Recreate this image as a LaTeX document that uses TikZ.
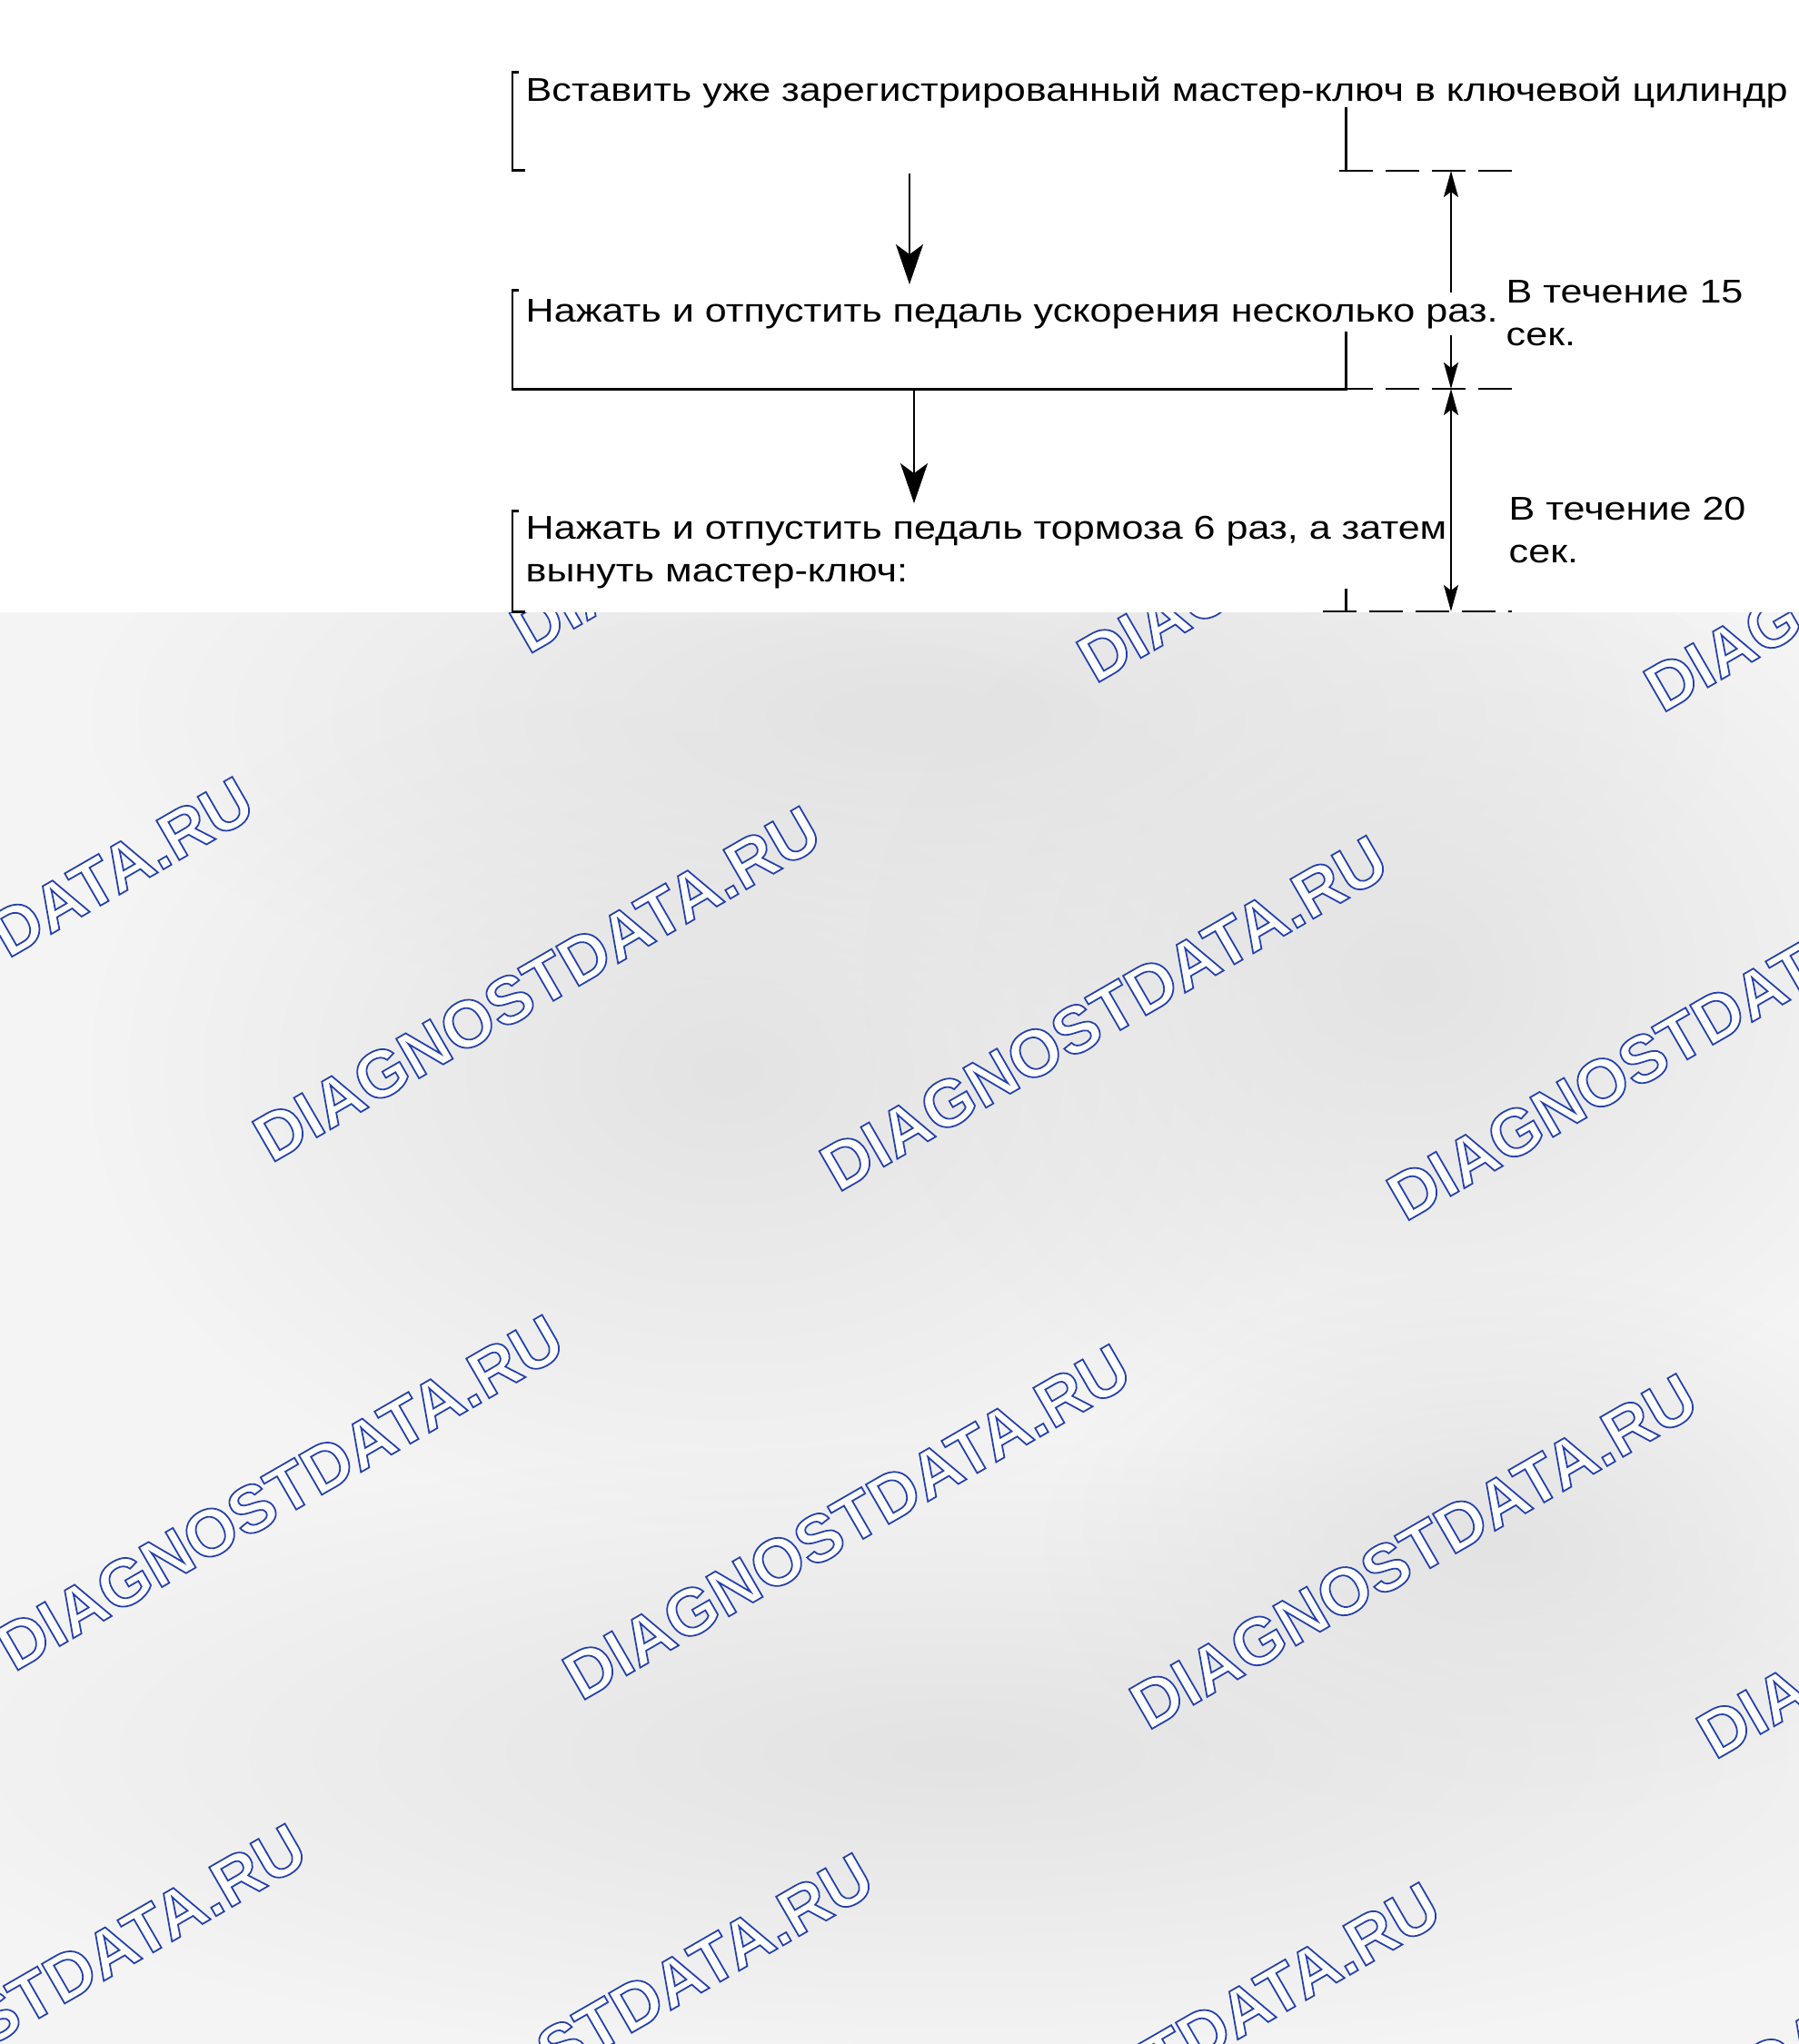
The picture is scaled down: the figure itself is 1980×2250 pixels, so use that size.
\documentclass[tikz,border=0pt]{standalone}
\usepackage{xcolor}
\usepackage{fontspec}
\setmainfont{Liberation Sans}[FakeStretch=1.19]
\newfontfamily\wmfont{Liberation Sans}
\usepackage{tikz}
\usetikzlibrary{positioning,calc,arrows.meta,fadings}

\definecolor{wmblue}{RGB}{40,70,180}
\definecolor{bgbase}{gray}{0.955}
\definecolor{bgblob}{gray}{0.89}
\newcommand{\outlinetext}[1]{\special{pdf:literal direct 0.14 0.25 0.68 RG 2 Tr 0.5 w}#1\special{pdf:literal direct 0 Tr}}
\tikzfading[name=blobfade, inner color=transparent!0, outer color=transparent!100]

\tikzset{
  steptext/.style={anchor=base west, inner sep=2pt, align=left, font=\fontsize{10.3pt}{13.1pt}\selectfont},
  bracketline/.style={line width=0.85pt},
  dashext/.style={line width=0.8pt, dash pattern=on 0.37cm off 0.14cm},
  flowarrow/.style={line width=0.6pt, -{Stealth[length=0.44cm,width=0.3cm,inset=0.11cm]}},
  dimline/.style={line width=0.55pt, {Stealth[length=0.29cm,width=0.16cm,inset=0.06cm]}-{Stealth[length=0.29cm,width=0.16cm,inset=0.06cm]}},
  blob/.style={fill=bgblob, path fading=blobfade},
  watermark/.style={rotate=30, inner sep=0pt, text=white, font=\wmfont\bfseries\fontsize{20.8pt}{23pt}\selectfont}
}

\begin{document}
\begin{tikzpicture}[x=0.01cm,y=-0.01cm]
\useasboundingbox (0,0) rectangle (1980,2250);
\begin{scope}
\clip (0,0) rectangle (1980,2250);
\fill[bgbase] (0,674) rectangle (1980,2250);
\fill[blob] (1000,790) ellipse [x radius=900, y radius=340];
\fill[blob] (800,1180) ellipse [x radius=700, y radius=500];
\fill[blob] (1550,1080) ellipse [x radius=600, y radius=500];
\fill[blob] (1050,1930) ellipse [x radius=1200, y radius=340];
\fill[blob] (1650,1700) ellipse [x radius=500, y radius=300];
% watermark grid
\foreach \r in {0,...,3}
  \foreach \k in {-1,...,3}
    \node[watermark] (wm-\r-\k) at ({874-283*\r+624*\k},{523+560*\r+32.3*\k}) {\outlinetext{DIAGNOSTDATA.RU}};
\fill[white] (0,0) rectangle (1980,674);
\end{scope}

\coordinate (d1) at (1597,188);
\coordinate (d2) at (1597,428);
\coordinate (d3) at (1597,673);
\draw[dimline] (d1) -- (d2);
\draw[dimline] (d2) -- (d3);

\node[steptext] (insert) at (571,111) {Вставить уже зарегистрированный мастер-ключ в ключевой цилиндр};
\node[steptext, fill=white] (pedal) at (571,354) {Нажать и отпустить педаль ускорения несколько раз.};
\node[steptext] (brake) at (571,640) {Нажать и отпустить педаль тормоза 6 раз, а затем\\вынуть мастер-ключ:};
\node[steptext] (t15) at (1650,380) {В течение 15\\сек.};
\node[steptext] (t20) at (1653,619) {В течение 20\\сек.};

% brackets
\draw[bracketline] (571,79) -- (564,79) -- (564,187) -- (578,187);
\draw[bracketline] (1481,118) -- (1481,188);
\draw[bracketline] (571,319) -- (564,319) -- (564,428) -- (1481,428) -- (1481,365);
\draw[bracketline] (571,562) -- (564,562) -- (564,673) -- (578,673);
\draw[bracketline] (1481,648) -- (1481,673);
\draw[dashext] (1474,188) -- (1664,188);
\draw[dashext] (1474,428) -- (1664,428);
\draw[dashext] (1456,673) -- (1664,673);

\coordinate (a1s) at (1001,191);
\coordinate (a1e) at (1001,313);
\coordinate (a2s) at (1006,428);
\coordinate (a2e) at (1006,554);
\draw[flowarrow] (a1s) -- (a1e);
\draw[flowarrow] (a2s) -- (a2e);
\end{tikzpicture}
\end{document}
